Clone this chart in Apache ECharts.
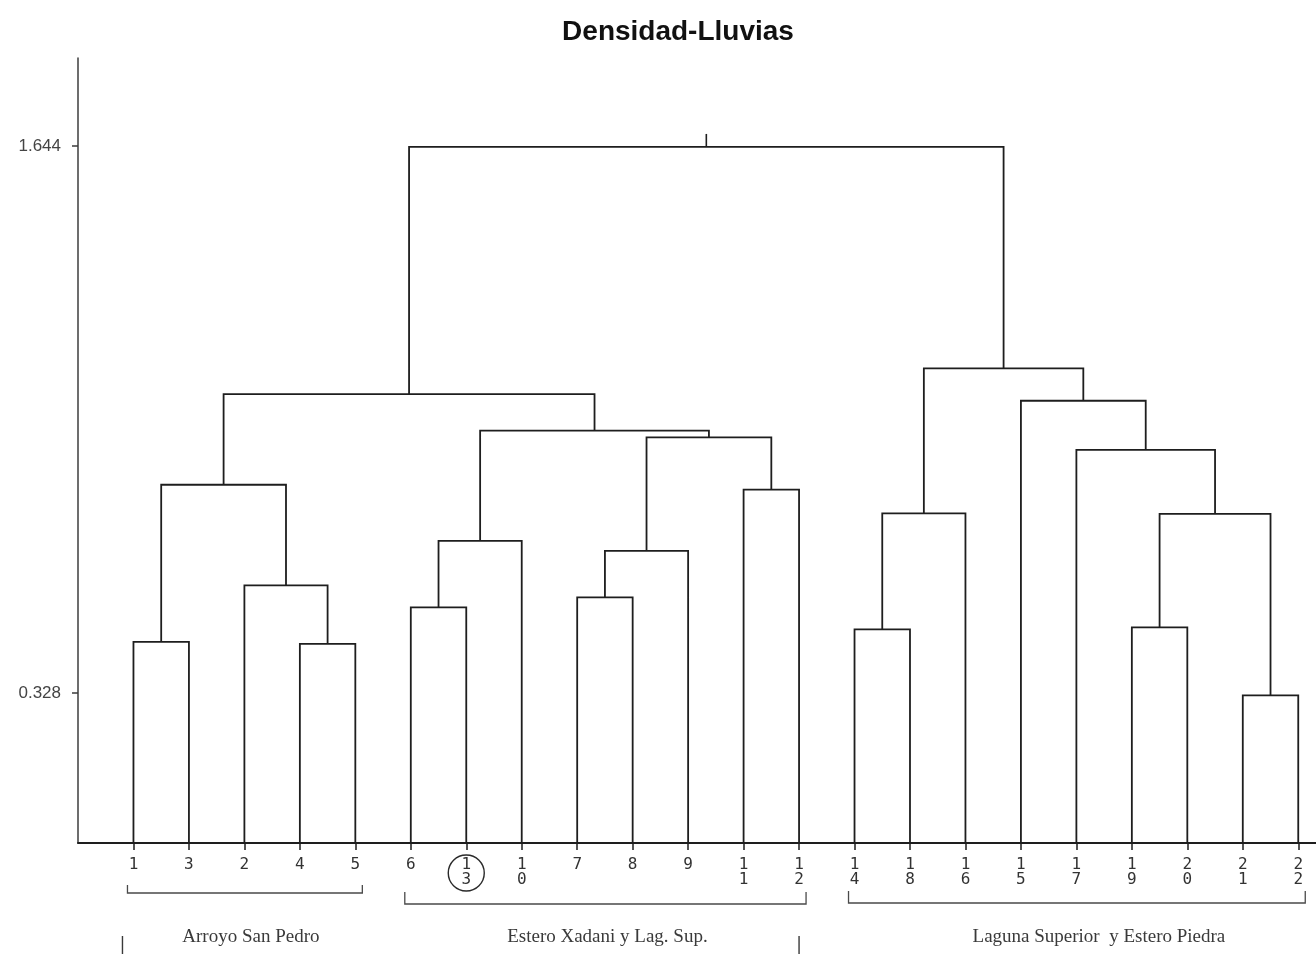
<!DOCTYPE html>
<html>
<head>
<meta charset="utf-8">
<title>Densidad-Lluvias</title>
<script src="https://cdn.jsdelivr.net/npm/echarts@6/dist/echarts.min.js"></script>
<style>
  html, body { margin: 0; padding: 0; background: #ffffff; }
  #chart { width: 1316px; height: 954px; }
</style>
</head>
<body>
<div id="chart"></div>
<script>
// Leaf order along the horizontal axis (station numbers)
const leafOrder = ['1', '3', '2', '4', '5', '6', '13', '10', '7', '8', '9', '11', '12',
                   '14', '18', '16', '15', '17', '19', '20', '21', '22'];

// Agglomeration steps: [child A, child B, fusion level]; cluster k is referred to as 'C' + k
const merges = [
  ['1', '3', 0.451],      // C0
  ['4', '5', 0.446],      // C1
  ['2', 'C1', 0.587],     // C2
  ['C0', 'C2', 0.829],    // C3
  ['6', '13', 0.534],     // C4
  ['C4', '10', 0.694],    // C5
  ['7', '8', 0.558],      // C6
  ['C6', '9', 0.670],     // C7
  ['11', '12', 0.817],    // C8
  ['C7', 'C8', 0.943],    // C9
  ['C5', 'C9', 0.959],    // C10
  ['C3', 'C10', 1.047],   // C11
  ['14', '18', 0.481],    // C12
  ['C12', '16', 0.760],   // C13
  ['19', '20', 0.486],    // C14
  ['21', '22', 0.322],    // C15
  ['C14', 'C15', 0.759],  // C16
  ['17', 'C16', 0.913],   // C17
  ['15', 'C17', 1.031],   // C18
  ['C13', 'C18', 1.109],  // C19
  ['C11', 'C19', 1.642]   // C20 (root)
];
const rootStubTop = 1.673;

// Labelled levels on the vertical axis
const yTicks = [0.328, 1.644];

// Station groups marked below the leaves
const groups = [
  { name: 'Arroyo San Pedro', from: '1', to: '5' },
  { name: 'Estero Xadani y Lag. Sup.', from: '6', to: '12' },
  { name: 'Laguna Superior  y Estero Piedra', from: '14', to: '22' }
];
const outerGroups = [{ from: '1', to: '12' }];
const circledLeaves = ['13'];

// ---- layout of the tree from the data above ----
const Y_MIN = -0.033;
const Y_MAX = 1.8557;
const BASE = Y_MIN; // leaves start on the horizontal axis

const leafPos = {};
leafOrder.forEach((id, i) => { leafPos[id] = i + 1; });

const nodes = {};
leafOrder.forEach(id => { nodes[id] = { x: leafPos[id], y: BASE }; });
const linkData = [];
merges.forEach((m, k) => {
  const a = nodes[m[0]], b = nodes[m[1]], h = m[2];
  linkData.push([a.x, a.y, b.x, b.y, h]);
  nodes['C' + k] = { x: (a.x + b.x) / 2, y: h };
});
const root = nodes['C' + (merges.length - 1)];
const stubData = [[root.x, root.y, rootStubTop]];

const groupData = groups.map(g => [leafPos[g.from], leafPos[g.to]]);
const outerData = outerGroups.map(g => [leafPos[g.from], leafPos[g.to]]);
const circleData = circledLeaves.map(id => [leafPos[id], BASE]);

const INK = '#1e1e1e';
const TEXT = '#333333';

// drawing details of the group brackets (pixels below the axis)
const bracketDrop = [50, 61, 60];
const bracketRise = [8, 12, 12];
const labelShift = [6, 2, 22];

const chart = echarts.init(document.getElementById('chart'), null, { renderer: 'canvas' });

chart.setOption({
  backgroundColor: '#ffffff',
  animation: false,
  title: {
    text: 'Densidad-Lluvias',
    left: 673,
    textAlign: 'center',
    top: 13,
    textStyle: { fontFamily: 'Liberation Sans, Arial, sans-serif', fontSize: 28, fontWeight: 'bold', color: '#111' }
  },
  grid: { left: 78, right: 0, top: 58, bottom: 111, containLabel: false },
  xAxis: {
    type: 'value',
    min: 0,
    max: 22.32,
    splitLine: { show: false },
    axisLine: { show: true, onZero: false, lineStyle: { color: INK, width: 2 } },
    axisTick: {
      show: true,
      customValues: leafOrder.map((id, i) => i + 1),
      length: 7,
      lineStyle: { color: INK, width: 1.5 }
    },
    axisLabel: {
      show: true,
      customValues: leafOrder.map((id, i) => i + 1),
      formatter: v => leafOrder[Math.round(v) - 1].split('').join('\n'),
      margin: 14,
      fontFamily: 'DejaVu Sans Mono, monospace',
      fontSize: 16,
      lineHeight: 15,
      color: TEXT,
      verticalAlign: 'top'
    }
  },
  yAxis: {
    type: 'value',
    min: Y_MIN,
    max: Y_MAX,
    splitLine: { show: false },
    axisLine: { show: true, onZero: false, lineStyle: { color: '#3c3c3c', width: 1.5 } },
    axisTick: {
      show: true,
      customValues: yTicks,
      length: 6,
      lineStyle: { color: '#3c3c3c', width: 1.5 }
    },
    axisLabel: {
      show: true,
      customValues: yTicks,
      formatter: v => v.toFixed(3),
      margin: 17,
      fontFamily: 'Liberation Sans, Arial, sans-serif',
      fontSize: 17,
      color: '#444'
    }
  },
  series: [
    {
      // dendrogram links
      type: 'custom',
      clip: false,
      data: linkData,
      encode: { x: [0, 2], y: [1, 3, 4] },
      renderItem: (params, api) => {
        const xa = api.value(0), ya = api.value(1), xb = api.value(2), yb = api.value(3), h = api.value(4);
        return {
          type: 'polyline',
          shape: { points: [api.coord([xa, ya]), api.coord([xa, h]), api.coord([xb, h]), api.coord([xb, yb])] },
          style: { stroke: INK, lineWidth: 1.8, fill: null }
        };
      }
    },
    {
      // stub above the root
      type: 'custom',
      clip: false,
      data: stubData,
      encode: { x: 0, y: [1, 2] },
      renderItem: (params, api) => {
        const x = api.value(0);
        const p1 = api.coord([x, api.value(1)]);
        const p2 = api.coord([x, api.value(2)]);
        return {
          type: 'line',
          shape: { x1: p1[0], y1: p1[1], x2: p2[0], y2: p2[1] },
          style: { stroke: INK, lineWidth: 1.6 }
        };
      }
    },
    {
      // group brackets and their names
      type: 'custom',
      clip: false,
      data: groupData,
      encode: { x: [0, 1] },
      renderItem: (params, api) => {
        const i = params.dataIndex;
        const pL = api.coord([api.value(0), BASE]);
        const pR = api.coord([api.value(1), BASE]);
        const xl = pL[0] - 6, xr = pR[0] + 7;
        const yLine = pL[1] + bracketDrop[i];
        const yTop = yLine - bracketRise[i];
        return {
          type: 'group',
          children: [
            {
              type: 'polyline',
              shape: { points: [[xl, yTop], [xl, yLine], [xr, yLine], [xr, yTop]] },
              style: { stroke: '#4a4a4a', lineWidth: 1.3, fill: null }
            },
            {
              type: 'text',
              x: (xl + xr) / 2 + labelShift[i],
              y: pL[1] + 94,
              style: {
                text: groups[i].name,
                fontFamily: 'Liberation Serif, Times New Roman, serif',
                fontSize: 19,
                fill: '#3a3a3a',
                align: 'center',
                verticalAlign: 'middle'
              }
            }
          ]
        };
      }
    },
    {
      // outer bracket spanning the first two groups
      type: 'custom',
      clip: false,
      data: outerData,
      encode: { x: [0, 1] },
      renderItem: (params, api) => {
        const pL = api.coord([api.value(0), BASE]);
        const pR = api.coord([api.value(1), BASE]);
        const xl = pL[0] - 11, xr = pR[0];
        const yTop = pL[1] + 93, yBot = pL[1] + 140;
        return {
          type: 'polyline',
          shape: { points: [[xl, yTop], [xl, yBot], [xr, yBot], [xr, yTop]] },
          style: { stroke: '#3a3a3a', lineWidth: 1.4, fill: null }
        };
      }
    },
    {
      // highlighted station
      type: 'custom',
      clip: false,
      data: circleData,
      encode: { x: 0, y: 1 },
      renderItem: (params, api) => {
        const p = api.coord([api.value(0), api.value(1)]);
        return {
          type: 'circle',
          shape: { cx: p[0], cy: p[1] + 30, r: 18 },
          style: { stroke: '#2a2a2a', lineWidth: 1.4, fill: null }
        };
      }
    }
  ]
});
</script>
</body>
</html>
